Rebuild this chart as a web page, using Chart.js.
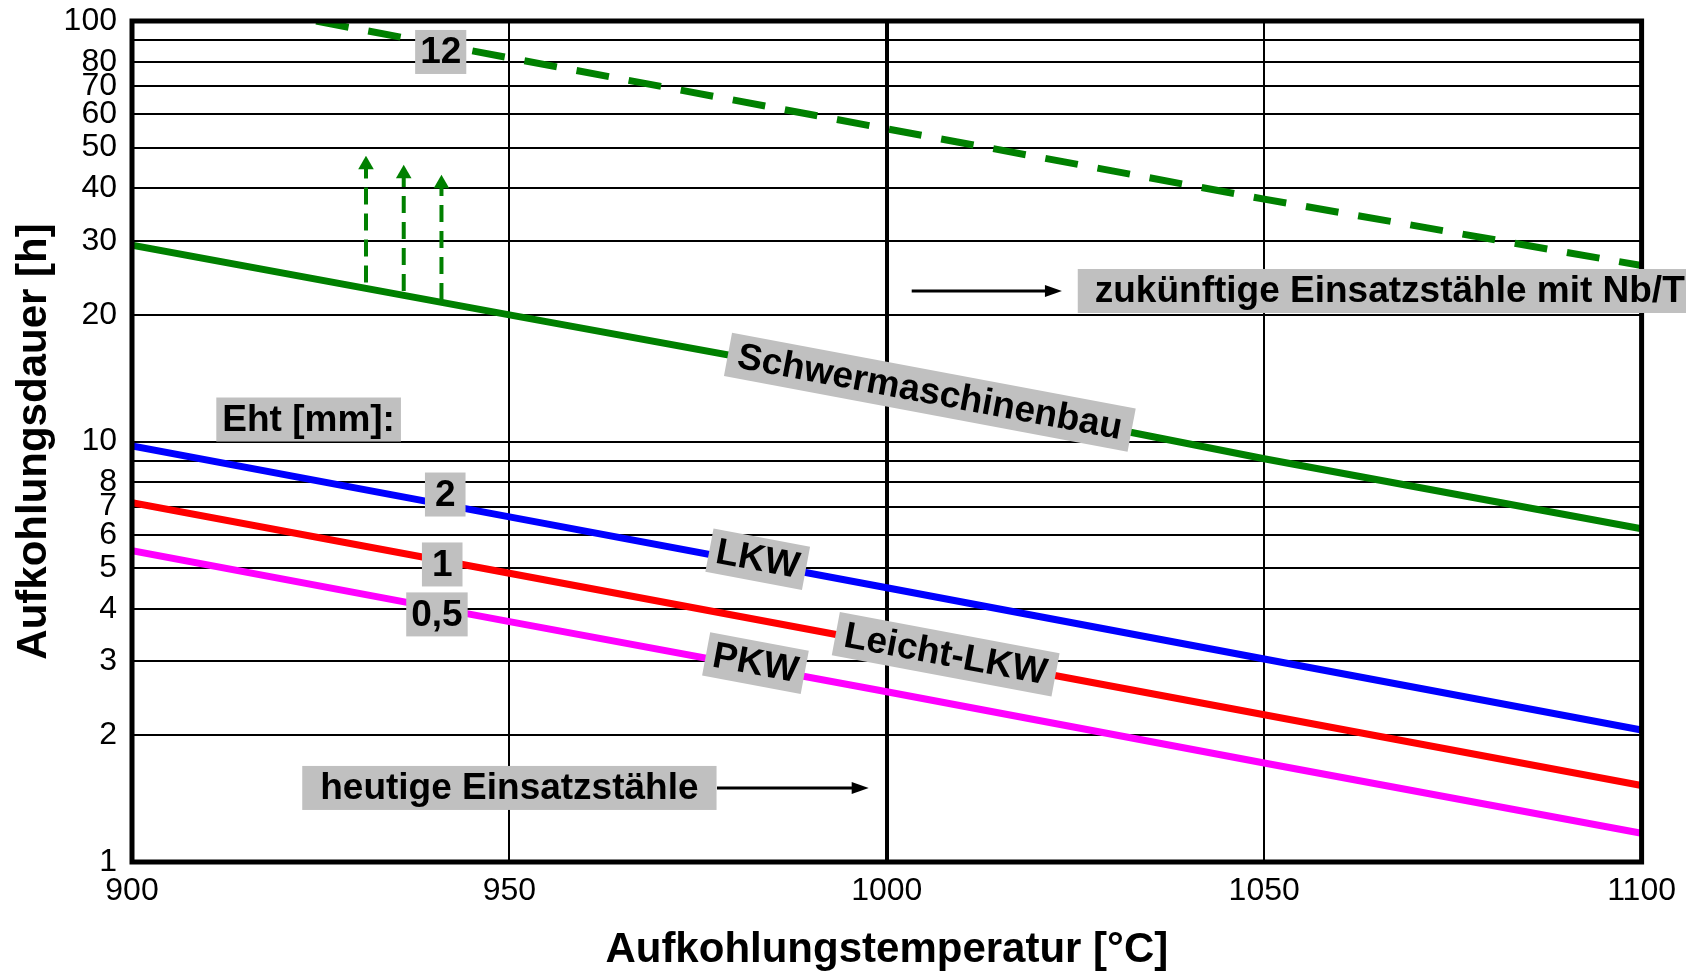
<!DOCTYPE html>
<html lang="de">
<head>
<meta charset="utf-8">
<title>Aufkohlungsdauer</title>
<script src="https://cdn.jsdelivr.net/npm/chart.js@4.4.1/dist/chart.umd.min.js"></script>
<style>
	html, body { margin: 0; padding: 0; background: #fff; }
	.chart-wrap { width: 1686px; height: 974px; }
</style>
</head>
<body>
<div class="chart-wrap"><canvas id="chart" width="1686" height="974"></canvas></div>
<script>
"use strict";

// values (temperature in °C, duration in h)
const temps = [900, 950, 1000, 1050, 1100];
const schwerValues = [29.3, 20.0, 13.7, 9.1, 6.2];
const lkwValues = [9.76, 6.62, 4.49, 3.04, 2.06];
const leichtLkwValues = [7.15, 4.86, 3.30, 2.24, 1.52];
const pkwValues = [5.5, 3.73, 2.54, 1.72, 1.17];

const futureTemps = [924.4, 950, 1000, 1050, 1100];
const futureValues = [100, 81.7, 55.4, 37.7, 26.2];

const arrowTemps = [931, 936, 941];
const arrowFrom = [23.9, 22.8, 21.7];
const arrowTo = [45.5, 43.3, 41.0];

const xTicks = [900, 950, 1000, 1050, 1100];
const yTicks = [1, 2, 3, 4, 5, 6, 7, 8, 9, 10, 20, 30, 40, 50, 60, 70, 80, 90, 100];
const yTickLabels = ['1', '2', '3', '4', '5', '6', '7', '8', '', '10', '20', '30', '40', '50', '60', '70', '80', '', '100'];

const FONT = '"Liberation Sans", Arial, sans-serif';

// gray label boxes, anchored in data units; "along" = dataset whose slope the box follows
const notes = [
	{ text: '12', x: 940.9, y: 84.4, padX: 5 },
	{ text: 'zukünftige Einsatzstähle mit Nb/Ti', x: 1025.3, y: 22.8, padX: 17, align: 'left' },
	{ text: 'Schwermaschinenbau', x: 1005.7, y: 13.1, padX: 10, along: 0 },
	{ text: 'Eht [mm]:', x: 923.4, y: 11.28, padX: 6 },
	{ text: '2', x: 941.5, y: 7.48, padX: 10 },
	{ text: '1', x: 941.1, y: 5.10, padX: 10 },
	{ text: '0,5', x: 940.4, y: 3.88, padX: 5 },
	{ text: 'LKW', x: 982.9, y: 5.25, padX: 7, along: 1 },
	{ text: 'Leicht-LKW', x: 1007.8, y: 3.12, padX: 9, along: 2 },
	{ text: 'PKW', x: 982.6, y: 2.97, padX: 7, along: 3 },
	{ text: 'heutige Einsatzstähle', x: 950, y: 1.5, padX: 18 }
];

const pointers = [
	{ x1: 1003.3, x2: 1023.2, y: 22.8 },
	{ x1: 977.5, x2: 997.6, y: 1.5 }
];


function eventHandler() {

	function toPoints(xs, ys) {
		return xs.map((x, i) => ({ x: x, y: ys[i] }));
	}

	function lineSet(label, xs, ys, color, extra) {
		return Object.assign({
			label: label,
			data: toPoints(xs, ys),
			borderColor: color,
			backgroundColor: color,
			borderWidth: 7,
			pointRadius: 0,
			fill: false,
			tension: 0
		}, extra || {});
	}

	let datasets = [
		lineSet('Schwermaschinenbau', temps, schwerValues, '#008000'),
		lineSet('LKW', temps, lkwValues, '#0000ff'),
		lineSet('Leicht-LKW', temps, leichtLkwValues, '#ff0000'),
		lineSet('PKW', temps, pkwValues, '#ff00ff'),
		lineSet('12', futureTemps, futureValues, '#008000', { borderDash: [33, 20] })
	];

	arrowTemps.forEach((t, i) => {
		datasets.push(lineSet('arrow' + i, [t, t], [arrowFrom[i], arrowTo[i]], '#008000', {
			borderWidth: 4,
			borderDash: [17, 9],
			pointStyle: 'triangle',
			pointRadius: [0, 9],
			pointBorderWidth: 0,
			pointBackgroundColor: '#008000'
		}));
	});

	const framePlugin = {
		id: 'frame',
		afterDatasetsDraw(chart) {
			const { ctx, chartArea: a } = chart;
			ctx.save();
			ctx.strokeStyle = '#000';
			ctx.lineWidth = 5;
			ctx.strokeRect(a.left, a.top, a.right - a.left, a.bottom - a.top);
			ctx.restore();
		}
	};

	const notesPlugin = {
		id: 'notes',
		afterDraw(chart) {
			const { ctx } = chart;
			const sx = chart.scales.x;
			const sy = chart.scales.y;

			// black pointer arrows
			pointers.forEach((p) => {
				const x1 = sx.getPixelForValue(p.x1);
				const x2 = sx.getPixelForValue(p.x2);
				const y = sy.getPixelForValue(p.y);
				ctx.save();
				ctx.strokeStyle = '#000';
				ctx.fillStyle = '#000';
				ctx.lineWidth = 3;
				ctx.beginPath();
				ctx.moveTo(x1, y);
				ctx.lineTo(x2 - 14, y);
				ctx.stroke();
				ctx.beginPath();
				ctx.moveTo(x2, y);
				ctx.lineTo(x2 - 17, y - 6);
				ctx.lineTo(x2 - 17, y + 6);
				ctx.closePath();
				ctx.fill();
				ctx.restore();
			});

			ctx.save();
			ctx.font = 'bold 37px ' + FONT;
			ctx.textBaseline = 'middle';
			notes.forEach((n) => {
				const px = sx.getPixelForValue(n.x);
				const py = sy.getPixelForValue(n.y);
				const w = ctx.measureText(n.text).width + n.padX * 2;
				const h = 44;
				let angle = 0;
				if (n.along !== undefined) {
					const pts = chart.getDatasetMeta(n.along).data;
					const p0 = pts[0];
					const p1 = pts[pts.length - 1];
					angle = Math.atan2(p1.y - p0.y, p1.x - p0.x);
				}
				ctx.save();
				ctx.translate(px, py);
				ctx.rotate(angle);
				const left = n.align === 'left' ? 0 : -w / 2;
				ctx.fillStyle = '#c0c0c0';
				ctx.fillRect(left, -h / 2, w, h);
				ctx.fillStyle = '#000';
				ctx.textAlign = 'left';
				ctx.fillText(n.text, left + n.padX, 1);
				ctx.restore();
			});
			ctx.restore();
		}
	};

	const tickFont = { family: FONT, size: 32 };
	const titleFont = { family: FONT, size: 42, weight: 'bold', lineHeight: 1 };

	new Chart(document.getElementById('chart'), {
		type: 'line',
		data: { datasets: datasets },
		options: {
			responsive: false,
			animation: false,
			events: [],
			layout: {
				padding: { top: 21, right: 44, bottom: 0, left: 0 }
			},
			plugins: {
				legend: { display: false },
				tooltip: { enabled: false }
			},
			scales: {
				x: {
					type: 'linear',
					min: 900,
					max: 1100,
					afterBuildTicks: (scale) => { scale.ticks = xTicks.map((v) => ({ value: v })); },
					afterFit: (scale) => { scale.height = 112; },
					ticks: {
						padding: 10,
						color: '#000',
						font: tickFont,
						maxRotation: 0,
						callback: (v, i) => String(xTicks[i])
					},
					grid: {
						color: '#000',
						lineWidth: (c) => (c.tick && c.tick.value === 1000 ? 4 : 2),
						drawTicks: false
					},
					border: { display: false },
					title: {
						display: true,
						text: 'Aufkohlungstemperatur [°C]',
						color: '#000',
						font: titleFont,
						padding: { top: 0, bottom: 3 }
					}
				},
				y: {
					type: 'logarithmic',
					min: 1,
					max: 100,
					afterBuildTicks: (scale) => { scale.ticks = yTicks.map((v) => ({ value: v })); },
					afterFit: (scale) => {
						scale.width = 132;
						scale.paddingTop = 0;
						scale.paddingBottom = 0;
					},
					ticks: {
						autoSkip: false,
						padding: 15,
						color: '#000',
						font: tickFont,
						callback: (v, i) => yTickLabels[i]
					},
					grid: {
						color: '#000',
						lineWidth: 2,
						drawTicks: false
					},
					border: { display: false },
					title: {
						display: true,
						text: 'Aufkohlungsdauer [h]',
						color: '#000',
						font: titleFont,
						padding: { top: 13, bottom: 0 }
					}
				}
			}
		},
		plugins: [framePlugin, notesPlugin]
	});
}

if (document.readyState !== 'loading') {
	eventHandler();
} else {
	document.addEventListener('DOMContentLoaded', eventHandler);
}
</script>
</body>
</html>
